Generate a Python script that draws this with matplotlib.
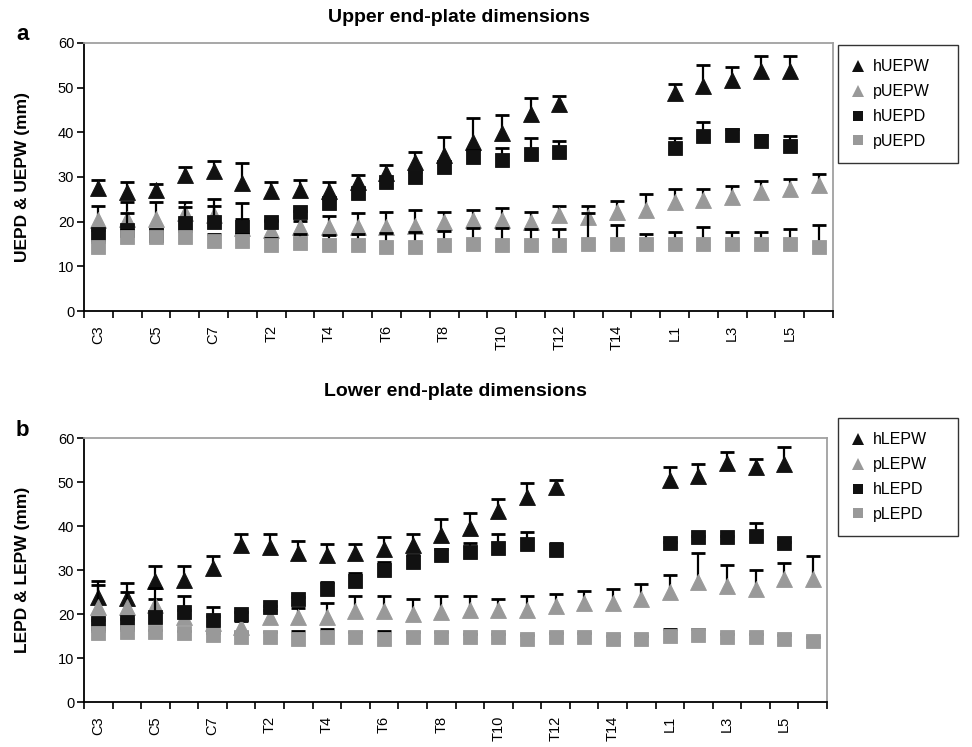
import numpy as np
import matplotlib
matplotlib.use("Agg")
import matplotlib.pyplot as plt
from matplotlib.lines import Line2D

nan = np.nan

levels = ["C3", "C4", "C5", "C6", "C7",
          "T1", "T2", "T3", "T4", "T5", "T6", "T7", "T8", "T9", "T10",
          "T11", "T12", "T13", "T14", "T15",
          "L1", "L2", "L3", "L4", "L5", "L6"]

# upper end-plate: means (mm) and SD (only the upper bar is drawn)
hUEPW = [27.6, 26.7, 27.2, 30.4, 31.4, 28.7, 26.9, 27.0, 26.8, 28.9, 30.8, 33.4, 34.9,
         37.9, 39.9, 44.2, 46.3, nan, nan, nan, 48.7, 50.4, 51.8, 53.7, 53.7, nan]
hUEPW_sd = [1.7, 2.1, 1.3, 1.8, 2.2, 4.5, 1.9, 2.3, 2.0, 1.5, 1.9, 2.3, 4.0,
            5.2, 3.9, 3.5, 1.8, nan, nan, nan, 2.2, 4.7, 2.8, 3.3, 3.3, nan]
pUEPW = [20.4, 20.7, 20.7, 21.9, 21.5, 18.5, 18.1, 18.7, 18.7, 18.9, 18.9, 19.0, 20.0,
         20.3, 20.3, 20.0, 21.5, 21.1, 22.2, 22.6, 24.4, 24.8, 25.6, 26.7, 27.4, 28.2]
pUEPW_sd = [3.1, 3.6, 3.6, 2.6, 3.5, 2.2, 2.1, 1.5, 2.6, 3.1, 3.3, 3.6, 2.2,
            2.3, 2.8, 2.2, 2.0, 2.4, 2.4, 3.6, 2.9, 2.5, 2.4, 2.4, 2.1, 2.4]
hUEPD = [17.2, 18.1, 17.0, 19.6, 20.0, 18.7, 20.0, 22.2, 24.1, 26.5, 28.9, 30.1, 32.2,
         34.5, 33.8, 35.2, 35.6, nan, nan, nan, 36.4, 39.1, 39.3, 38.0, 36.9, nan]
hUEPD_sd = [0.9, 3.9, 1.3, 3.7, 3.5, 5.5, 0.4, 0.3, 1.0, 0.8, 0.6, 1.0, 1.1,
            1.5, 2.6, 3.6, 2.5, nan, nan, nan, 2.4, 3.2, 1.4, 1.5, 2.2, nan]
pUEPD = [14.4, 16.6, 16.5, 16.5, 15.7, 15.7, 14.8, 15.2, 14.8, 14.8, 14.4, 14.4, 14.8,
         15.1, 14.8, 14.8, 14.8, 15.1, 15.1, 15.1, 15.1, 15.1, 15.1, 15.1, 15.1, 14.4]
pUEPD_sd = [1.0, 1.5, 1.5, 1.5, 1.5, 1.5, 1.5, 2.0, 2.2, 2.5, 3.0, 3.2, 3.0,
            3.4, 3.7, 3.5, 3.5, 6.9, 4.1, 2.1, 2.5, 3.6, 2.5, 2.5, 3.2, 4.8]

# lower end-plate
hLEPW = [23.9, 23.6, 27.6, 27.7, 30.4, 35.7, 35.3, 33.8, 33.4, 33.9, 34.7, 35.7, 38.0,
         39.5, 43.3, 46.7, 48.8, nan, nan, nan, 50.5, 51.3, 54.3, 53.5, 54.1, nan]
hLEPW_sd = [3.7, 3.4, 3.2, 3.1, 2.8, 2.5, 2.9, 2.9, 2.5, 2.0, 2.7, 2.5, 3.5,
            3.4, 2.8, 3.0, 1.7, nan, nan, nan, 3.0, 2.8, 2.5, 1.7, 3.8, nan]
pLEPW = [21.5, 21.5, 22.0, 19.3, 18.0, 17.0, 19.4, 19.4, 19.4, 20.7, 20.7, 20.1, 20.5,
         20.9, 20.9, 20.9, 21.8, 22.6, 22.6, 23.5, 25.1, 27.3, 26.4, 25.6, 27.9, 27.9]
pLEPW_sd = [5.1, 3.6, 1.5, 1.5, 1.5, 1.5, 1.5, 2.0, 3.2, 3.4, 3.4, 3.2, 3.6,
            3.2, 2.6, 3.2, 2.7, 2.6, 3.0, 3.3, 3.8, 6.6, 4.7, 4.4, 3.6, 5.3]
hLEPD = [18.0, 18.2, 19.4, 20.5, 18.6, 20.1, 21.6, 23.5, 25.6, 27.5, 30.0, 31.9, 33.4,
         34.2, 34.9, 35.9, 34.5, nan, nan, nan, 36.1, 37.4, 37.4, 37.7, 36.1, nan]
hLEPD_sd = [0.6, 0.6, 6.6, 3.6, 2.9, 0.4, 0.3, 0.3, 1.6, 1.9, 1.9, 1.4, 1.4,
            1.9, 3.3, 2.7, 1.7, nan, nan, nan, 0.3, 0.4, 0.3, 2.9, 0.3, nan]
pLEPD = [15.6, 15.9, 15.9, 15.6, 15.2, 14.7, 14.7, 14.4, 14.8, 14.7, 14.4, 14.7, 14.7,
         14.7, 14.7, 14.4, 14.7, 14.7, 14.4, 14.4, 15.0, 15.2, 14.7, 14.7, 14.4, 13.9]
pLEPD_sd = [0.5, 0.5, 0.5, 0.5, 0.5, 1.1, 1.1, 1.8, 1.7, 1.2, 1.8, 1.2, 1.2,
            0.8, 0.8, 0.8, 0.9, 0.9, 0.5, 0.5, 1.5, 1.3, 0.8, 0.8, 0.8, 0.8]

plt.rcParams['font.family'] = ['Liberation Sans', 'DejaVu Sans']
BLACK = '#111111'
GREY = '#999999'
W, H = 972, 747

fig = plt.figure(figsize=(W / 100, H / 100), dpi=100)


def px_axes(left, top, right, bottom):
    return fig.add_axes([left / W, 1 - bottom / H, (right - left) / W, (bottom - top) / H])


def draw_panel(ax, series, ylabel, title, letter, title_y, leg_box):
    x = np.arange(len(levels))
    styles = [('^', BLACK, 11.5), ('^', GREY, 11.5), ('s', BLACK, 9.5), ('s', GREY, 9.5)]
    handles = []
    for (name, vals, sd), (mk, col, ms) in zip(series, styles):
        vals = np.array(vals)
        sd = np.array(sd)
        # upper SD bar only; hide the cap sitting on the mean
        _, caps, _ = ax.errorbar(x, vals, yerr=[np.zeros_like(sd), sd], fmt='none',
                                 ecolor='black', elinewidth=1.6, capsize=4.8,
                                 capthick=2.0, clip_on=False)
        caps[0].set_visible(False)
        ax.plot(x, vals, ls='none', marker=mk, color=col, ms=ms, mec=col, mew=0.6,
                clip_on=False)
        handles.append(Line2D([], [], ls='none', marker=mk, color=col,
                              ms=ms * 0.8, mew=0, label=name))

    ax.set_xlim(-0.5, len(levels) - 0.5)
    ax.set_ylim(0, 60)
    ax.set_yticks(range(0, 61, 10))
    ax.set_xticks(np.arange(-0.5, len(levels), 1))
    ax.set_xticklabels([])
    ax.set_xticks(x[::2], minor=True)
    ax.set_xticklabels(levels[::2], minor=True, rotation=90, fontsize=10.5)
    ax.tick_params(axis='x', which='major', direction='out', length=5, width=1.2)
    ax.tick_params(axis='x', which='minor', length=0, pad=10)
    ax.tick_params(axis='y', direction='out', length=5, width=1.2, labelsize=10.5, pad=2)
    for s in ('left', 'bottom'):
        ax.spines[s].set_color('black')
        ax.spines[s].set_linewidth(1.3)
    for s in ('top', 'right'):
        ax.spines[s].set_color('#a0a0a0')
        ax.spines[s].set_linewidth(1.3)

    pos = ax.get_position()
    ax.set_ylabel(ylabel, fontsize=12.5, fontweight='bold')
    ax.yaxis.set_label_coords((30 / W - pos.x0) / pos.width, 0.5)
    fig.text((pos.x0 + pos.x1) / 2, 1 - title_y / H, title, ha='center', va='center',
             fontsize=14, fontweight='bold')
    fig.text(16 / W, pos.y1 + 8 / H, letter, ha='left', va='center',
             fontsize=16, fontweight='bold')

    lx, ly, lw, lh = leg_box
    leg = ax.legend(handles=handles, loc='upper left', mode='expand',
                    bbox_to_anchor=(lx / W, 1 - (ly + lh) / H, lw / W, lh / H),
                    bbox_transform=fig.transFigure, fontsize=11.5, frameon=True,
                    fancybox=False, edgecolor='black', borderpad=0.9,
                    labelspacing=0.62, handlelength=0.7, handletextpad=0.6,
                    borderaxespad=0)
    leg.get_frame().set_linewidth(1.0)


ax_a = px_axes(84, 43, 833, 311)
draw_panel(ax_a,
           [("hUEPW", hUEPW, hUEPW_sd), ("pUEPW", pUEPW, pUEPW_sd),
            ("hUEPD", hUEPD, hUEPD_sd), ("pUEPD", pUEPD, pUEPD_sd)],
           "UEPD & UEPW (mm)", "Upper end-plate dimensions", "a", 18, (838, 45, 120, 123))

ax_b = px_axes(84, 438, 827, 702)
draw_panel(ax_b,
           [("hLEPW", hLEPW, hLEPW_sd), ("pLEPW", pLEPW, pLEPW_sd),
            ("hLEPD", hLEPD, hLEPD_sd), ("pLEPD", pLEPD, pLEPD_sd)],
           "LEPD & LEPW (mm)", "Lower end-plate dimensions", "b", 392, (838, 418, 120, 127))

fig.savefig("out.png", dpi=100)
